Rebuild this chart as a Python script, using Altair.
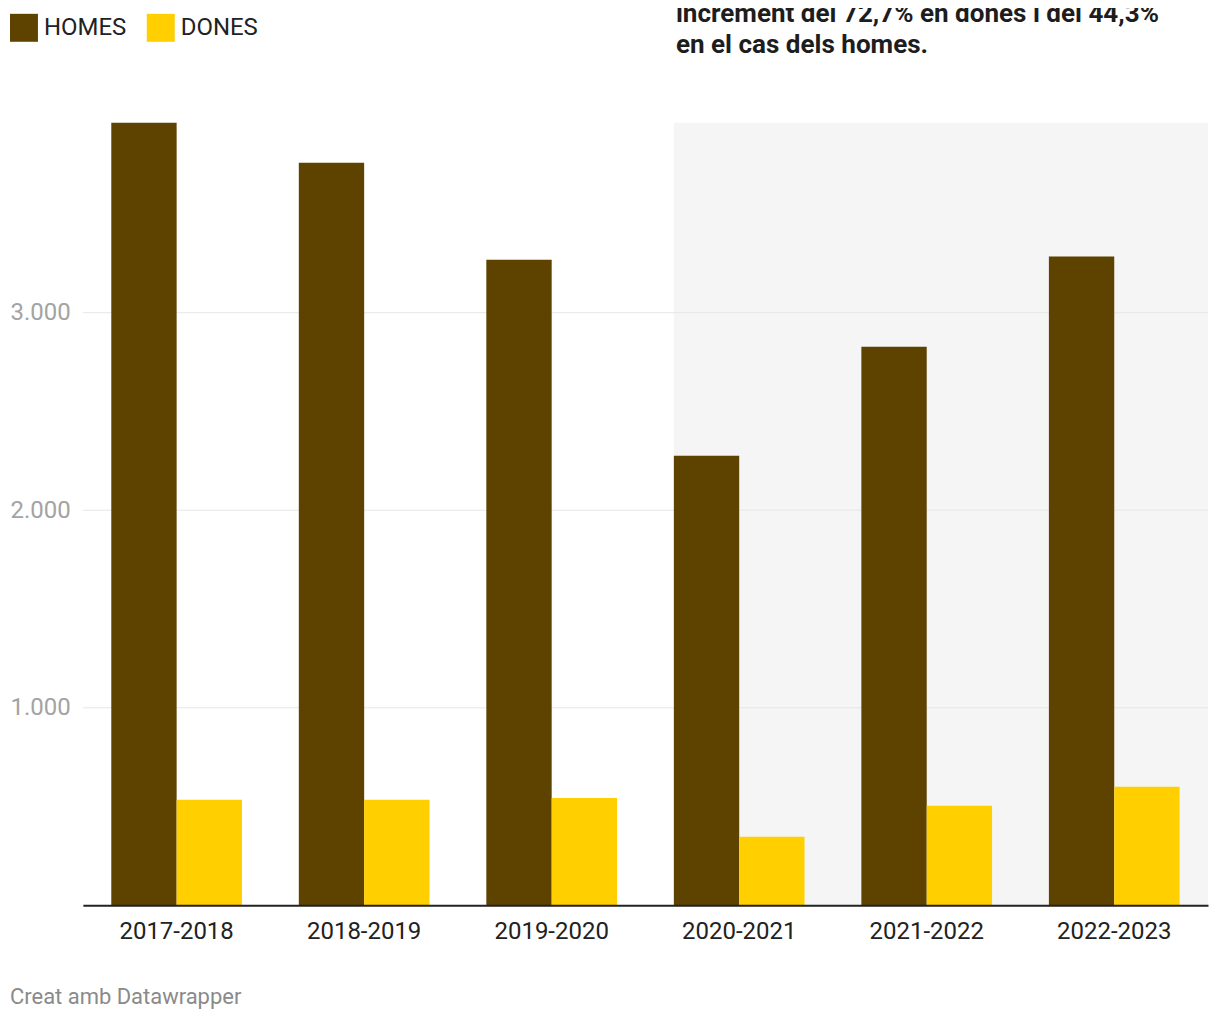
import altair as alt
import pandas as pd

seasons = ["2017-2018", "2018-2019", "2019-2020", "2020-2021", "2021-2022", "2022-2023"]
homes = [3962, 3759, 3268, 2276, 2828, 3284]
dones = [534, 534, 544, 347, 504, 600]
series = ["HOMES", "DONES"]
colors = ["#5d4200", "#ffcf00"]
grid_values = [1000, 2000, 3000]
y_max = 3962
highlight_start = "2020-2021"
annotation = ["increment del 72,7% en dones i del 44,3%", "en el cas dels homes."]
credit = "Creat amb Datawrapper"

rows = []
for s, h, d in zip(seasons, homes, dones):
    rows.append({"season": s, "sexe": "HOMES", "value": h})
    rows.append({"season": s, "sexe": "DONES", "value": d})
df = pd.DataFrame(rows)

W, H = 1127, 784
FONT = "Roboto"
xscale = alt.Scale(domain=seasons, paddingInner=0.303, paddingOuter=0.1515)
yscale = alt.Scale(domain=[0, y_max], nice=False, zero=True)
one = pd.DataFrame({"a": [0]})

xaxis = alt.Axis(title=None, labelAngle=0, ticks=False, domain=True, domainColor="#222",
                 domainWidth=2, labelFontSize=24, labelFont=FONT, labelColor="#222",
                 labelPadding=14, grid=False)
yaxis = alt.Axis(values=grid_values, title=None, ticks=False, domain=False, grid=False,
                 labelAlign="left", labelPadding=73, labelFontSize=24, labelFont=FONT,
                 labelColor="#a3a3a3", labelBaseline="middle",
                 labelExpr="replace(format(datum.value, ','), ',', '.')")

shade = alt.Chart(one).mark_rect(color="#f5f5f5").encode(
    x=alt.XDatum(highlight_start, type="nominal", bandPosition=0, scale=xscale, axis=xaxis),
    x2=alt.value(W),
    y=alt.YDatum(y_max, type="quantitative", scale=yscale, axis=yaxis),
    y2=alt.Y2Datum(0),
)

rules = alt.Chart(pd.DataFrame({"v": grid_values})).mark_rule(color="#e6e6e6", strokeWidth=1).encode(
    y=alt.Y("v:Q", scale=yscale, axis=yaxis),
)

bars = alt.Chart(df).mark_bar().encode(
    x=alt.X("season:N", scale=xscale, sort=seasons, axis=xaxis),
    xOffset=alt.XOffset("sexe:N", sort=series, scale=alt.Scale(domain=series, paddingInner=0, paddingOuter=0)),
    y=alt.Y("value:Q", scale=yscale, axis=yaxis),
    color=alt.Color("sexe:N", sort=series, scale=alt.Scale(domain=series, range=colors),
                    legend=alt.Legend(title=None, orient="none", legendX=-73, legendY=-109,
                                      direction="horizontal", symbolType="square", symbolSize=784,
                                      symbolStrokeWidth=0, symbolOpacity=1, labelFontSize=24,
                                      labelFont=FONT, labelColor="#222", labelOffset=6,
                                      columnPadding=20, padding=0)),
)

annot = alt.Chart(one).mark_text(
    text=annotation, align="left", baseline="alphabetic", font=FONT, fontWeight="bold",
    fontSize=26.1, lineHeight=31, color="#1d1d1d"
).encode(x=alt.value(594), y=alt.value(-101))

cred = alt.Chart(one).mark_text(
    text=credit, align="left", baseline="middle", font=FONT, fontSize=22, color="#8a8a8a"
).encode(x=alt.value(-73), y=alt.value(876))

chart = alt.layer(shade, rules, bars, annot, cred).properties(
    width=W, height=H,
    autosize=alt.AutoSizeParams(type="none"),
    padding={"left": 75, "top": 114, "right": 4, "bottom": 106},
).configure(font=FONT).configure_view(stroke=None)

chart.save("out.html", embed_options={"renderer": "svg", "actions": False})
